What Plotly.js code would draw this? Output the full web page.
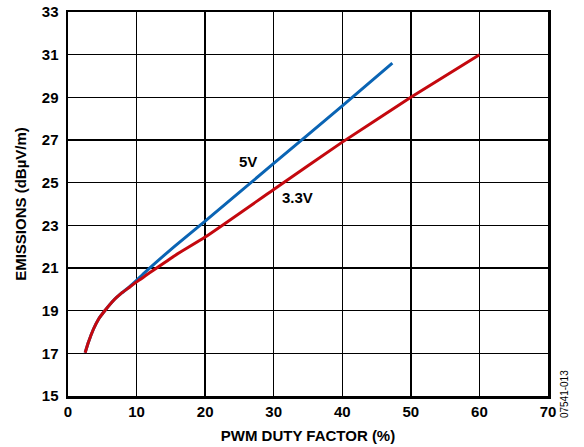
<!DOCTYPE html>
<html>
<head>
<meta charset="utf-8">
<script src="https://cdn.plot.ly/plotly-3.0.1.min.js"></script>
<style>html,body{margin:0;padding:0;background:#fff;}#chart{width:584px;height:447px;}</style>
</head>
<body>
<div id="chart"></div>
<script>
// Data
const dutyBlue5V = [2.5, 2.99, 3.72, 4.45, 5.42, 6.63, 7.84, 9.0, 10, 11.3, 15.67, 20, 30, 40, 47.3];
const emisBlue5V = [17.03, 17.53, 18.14, 18.6, 19.02, 19.48, 19.83, 20.13, 20.42, 20.82, 22.05, 23.2, 25.9, 28.6, 30.6];
const dutyRed33V = [2.5, 2.99, 3.72, 4.45, 5.42, 6.63, 7.84, 9.06, 10, 11.49, 15.67, 20, 30, 40, 50, 60];
const emisRed33V = [17.03, 17.53, 18.14, 18.6, 19.02, 19.48, 19.83, 20.12, 20.35, 20.68, 21.6, 22.45, 24.68, 26.9, 29.0, 31.0];
const xTicks = [0, 10, 20, 30, 40, 50, 60, 70];
const yTicks = [15, 17, 19, 21, 23, 25, 27, 29, 31, 33];
const seriesLabels = ["5V", "3.3V"];
const labelPos = [[26.3, 26.0], [33.5, 24.3]];
const xTitle = "PWM DUTY FACTOR (%)";
const yTitle = "EMISSIONS (dBµV/m)";
const figId = "07541-013";

const font = "Liberation Sans, Arial, sans-serif";
const traces = [
  {x: dutyBlue5V, y: emisBlue5V, mode: "lines", line: {color: "#0a64b4", width: 3, shape: "spline", smoothing: 0.5}, hoverinfo: "skip"},
  {x: dutyRed33V, y: emisRed33V, mode: "lines", line: {color: "#c4080e", width: 3, shape: "spline", smoothing: 0.5}, hoverinfo: "skip"}
];
const b = s => "<b>" + s + "</b>";
const layout = {
  width: 584, height: 447,
  margin: {l: 67.5, r: 36.3, t: 11.7, b: 51.3},
  paper_bgcolor: "#fff", plot_bgcolor: "#fff",
  showlegend: false,
  font: {family: font, size: 14, color: "#000"},
  xaxis: {
    range: [0, 70], tickvals: xTicks, ticktext: xTicks.map(v => b(String(v))),
    showgrid: true, gridcolor: "#000", gridwidth: 1.5, zeroline: false,
    showline: true, linecolor: "#000", linewidth: 2.5, mirror: true,
    ticks: "", tickfont: {family: font, size: 15, color: "#000"},
    title: {text: b(xTitle), font: {family: font, size: 15, color: "#000"}, standoff: 12}
  },
  yaxis: {
    range: [15, 33], tickvals: yTicks, ticktext: yTicks.map(v => b(String(v))),
    showgrid: true, gridcolor: "#000", gridwidth: 1.5, zeroline: false,
    showline: true, linecolor: "#000", linewidth: 2.5, mirror: true,
    ticks: "", ticklabelstandoff: 4, tickfont: {family: font, size: 15, color: "#000"},
    title: {text: b(yTitle), font: {family: font, size: 15, color: "#000"}, standoff: 12}
  },
  annotations: [
    {x: labelPos[0][0], y: labelPos[0][1], xref: "x", yref: "y", text: b(seriesLabels[0]), showarrow: false, font: {family: font, size: 15, color: "#000"}},
    {x: labelPos[1][0], y: labelPos[1][1], xref: "x", yref: "y", text: b(seriesLabels[1]), showarrow: false, font: {family: font, size: 15, color: "#000"}},
    {x: 0, y: 0, xref: "paper", yref: "paper", text: figId, showarrow: false, textangle: -90, font: {family: font, size: 10, color: "#000"}}
  ]
};
// figure id position (pixels -> paper coords)
const pw = 584 - 67.5 - 36.3, ph = 447 - 11.7 - 51.3;
layout.annotations[2].x = (572 - 67.5) / pw;
layout.annotations[2].y = (447 - 51.3 - 420) / ph;
Plotly.newPlot("chart", traces, layout, {staticPlot: true, displayModeBar: false});
</script>
</body>
</html>
